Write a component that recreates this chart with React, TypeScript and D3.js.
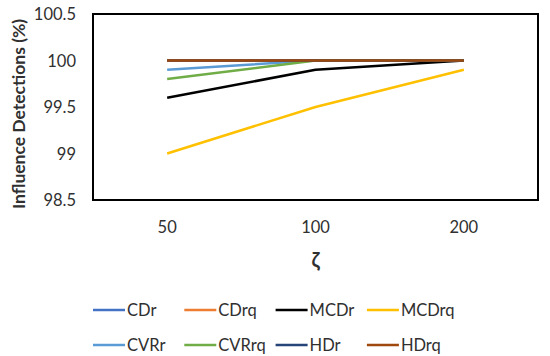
// D3 line chart: influence detections vs zeta
import * as d3 from "d3";
import { useRef, useEffect } from "react";

// categories on the x axis
const categories = ["50", "100", "200"];

// series names and colours
const seriesNames = ["CDr", "CDrq", "MCDr", "MCDrq", "CVRr", "CVRrq", "HDr", "HDrq"];
const seriesColors = ["#4472C4", "#ED7D31", "#000000", "#FFC000", "#5B9BD5", "#70AD47", "#264478", "#9E480E"];

// series values (one per category)
const cdr = [100, 100, 100];
const cdrq = [100, 100, 100];
const mcdr = [99.6, 99.9, 100];
const mcdrq = [99.0, 99.5, 99.9];
const cvrr = [99.9, 100, 100];
const cvrrq = [99.8, 100, 100];
const hdr = [100, 100, 100];
const hdrq = [100, 100, 100];
const seriesValues = [cdr, cdrq, mcdr, mcdrq, cvrr, cvrrq, hdr, hdrq];

// y tick labels
const yTicks = [98.5, 99, 99.5, 100, 100.5];

export default function App() {
    const svgRef = useRef<SVGSVGElement>(null);

    useEffect(() => {
        const svg = d3.select(svgRef.current);
        svg.selectAll("*").remove();

        const font = "Lato, 'Open Sans', sans-serif";
        const textColor = "#303030";
        const plot = { left: 93, right: 538, top: 14, bottom: 200 };

        // scales
        const x = d3.scaleBand().domain(categories).range([plot.left, plot.right]);
        const y = d3.scaleLinear().domain([98.5, 100.5]).range([plot.bottom, plot.top]);
        const cx = (c: string) => (x(c) as number) + x.bandwidth() / 2;

        // plot area border
        svg.append("rect")
            .attr("x", plot.left).attr("y", plot.top)
            .attr("width", plot.right - plot.left).attr("height", plot.bottom - plot.top)
            .attr("fill", "white").attr("stroke", "black").attr("stroke-width", 2);

        // y tick labels
        svg.append("g").selectAll("text").data(yTicks).enter().append("text")
            .attr("x", 76).attr("y", d => y(d) + 6)
            .attr("text-anchor", "end").attr("font-family", font).attr("font-size", 16.5).attr("fill", textColor)
            .text(d => d);

        // x tick labels
        svg.append("g").selectAll("text").data(categories).enter().append("text")
            .attr("x", d => cx(d)).attr("y", 233)
            .attr("text-anchor", "middle").attr("font-family", font).attr("font-size", 16.5).attr("fill", textColor)
            .text(d => d);

        // lines
        const line = d3.line<number>().x((_, i) => cx(categories[i])).y(d => y(d));
        svg.append("g").selectAll("path").data(seriesValues).enter().append("path")
            .attr("d", d => line(d))
            .attr("fill", "none").attr("stroke", (_, i) => seriesColors[i])
            .attr("stroke-width", 2.5).attr("stroke-linejoin", "round");

        // axis titles
        svg.append("text")
            .attr("x", cx("100")).attr("y", 267)
            .attr("text-anchor", "middle").attr("font-family", font).attr("font-size", 20).attr("font-weight", 700).attr("fill", textColor)
            .text("ζ");
        svg.append("text")
            .attr("transform", `translate(25,114) rotate(-90)`)
            .attr("text-anchor", "middle").attr("font-family", font).attr("font-size", 17.5).attr("font-weight", 700).attr("fill", textColor)
            .text("Influence Detections (%)");

        // legend
        const legend = svg.append("g").selectAll("g").data(seriesNames).enter().append("g")
            .attr("transform", (_, i) => `translate(${93 + (i % 4) * 91.3},${i < 4 ? 310 : 345})`);
        legend.append("line")
            .attr("x1", 0).attr("x2", 32).attr("y1", 0).attr("y2", 0)
            .attr("stroke", (_, i) => seriesColors[i]).attr("stroke-width", 2.5);
        legend.append("text")
            .attr("x", 34).attr("y", 6)
            .attr("font-family", font).attr("font-size", 16.5).attr("fill", textColor)
            .text(d => d);
    }, []);

    return <svg ref={svgRef} width={550} height={356} style={{ position: "absolute", left: 0, top: 0, background: "white" }} />;
}
